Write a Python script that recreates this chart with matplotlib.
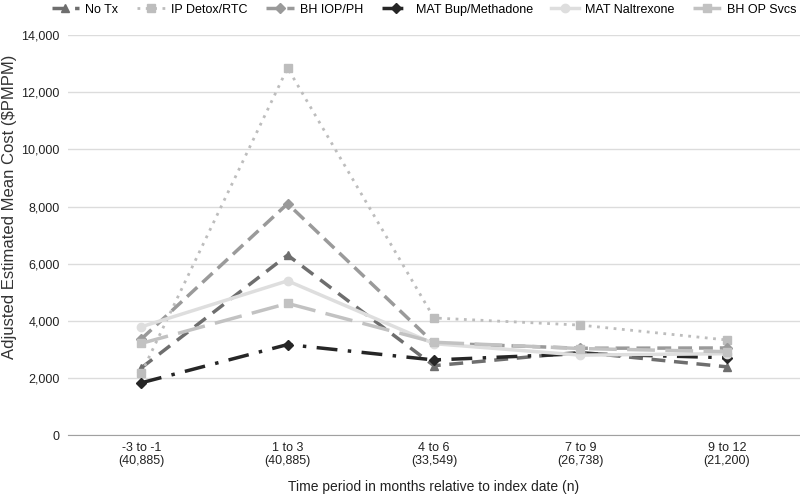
import matplotlib
matplotlib.use('Agg')
import matplotlib.pyplot as plt

plt.rcParams['font.family'] = ['Liberation Sans', 'DejaVu Sans']

# data
periods = ['-3 to -1\n(40,885)', '1 to 3\n(40,885)', '4 to 6\n(33,549)',
           '7 to 9\n(26,738)', '9 to 12\n(21,200)']
no_tx = [2350, 6300, 2430, 2900, 2390]
ip_detox = [2160, 12850, 4100, 3850, 3330]
bh_iop = [3360, 8100, 3220, 3040, 3050]
mat_bup = [1830, 3170, 2630, 2850, 2710]
mat_nal = [3790, 5400, 3200, 2800, 2850]
bh_op = [3210, 4610, 3250, 3030, 2920]

x = list(range(len(periods)))

fig = plt.figure(figsize=(8, 4.95), dpi=100)
ax = fig.add_axes([0.085, 0.121, 0.915, 0.808])

ax.plot(x, no_tx, color='#6e6e6e', lw=2.5, ls=(0, (4, 2.5)), marker='^', ms=6, label='No Tx')
ax.plot(x, ip_detox, color='#bdbdbd', lw=2, ls=(0, (1, 2)), marker='s', ms=6, label='IP Detox/RTC')
ax.plot(x, bh_iop, color='#9a9a9a', lw=2.5, ls=(0, (4, 2)), marker='D', ms=5, label='BH IOP/PH')
ax.plot(x, mat_bup, color='#262626', lw=2.5, ls=(0, (6, 3, 1, 3)), marker='D', ms=5, label='MAT Bup/Methadone')
ax.plot(x, mat_nal, color='#dedede', lw=2.5, ls='-', marker='o', ms=6, label='MAT Naltrexone')
ax.plot(x, bh_op, color='#c2c2c2', lw=2.5, ls=(0, (8, 3)), marker='s', ms=6, label='BH OP Svcs')

ax.set_xlim(-0.5, 4.5)
ax.set_ylim(0, 14000)
ax.set_yticks(range(0, 14001, 2000))
ax.set_yticklabels(['{:,}'.format(v) for v in range(0, 14001, 2000)])
ax.set_xticks(x)
ax.set_xticklabels(periods, linespacing=1.15)
ax.tick_params(length=0, labelsize=9, colors='#222222')
ax.tick_params(axis='x', pad=5)
ax.tick_params(axis='y', pad=6)
ax.grid(axis='y', color='#dcdcdc', lw=1)
ax.set_axisbelow(True)
for s in ax.spines.values():
    s.set_visible(False)
ax.spines['bottom'].set_visible(True)
ax.spines['bottom'].set_color('#a0a0a0')

ax.set_ylabel('Adjusted Estimated Mean Cost ($PMPM)', fontsize=12, color='#333333')
ax.yaxis.set_label_coords(-0.069, 0.57)
ax.set_xlabel('Time period in months relative to index date (n)', fontsize=10,
              color='#222222', labelpad=9)

fig.legend(loc='upper center', bbox_to_anchor=(0.53, 1.015), ncol=6, frameon=False,
           fontsize=9, handlelength=2.2, columnspacing=1.5, handletextpad=0.5)

fig.savefig('out.png', dpi=100)
